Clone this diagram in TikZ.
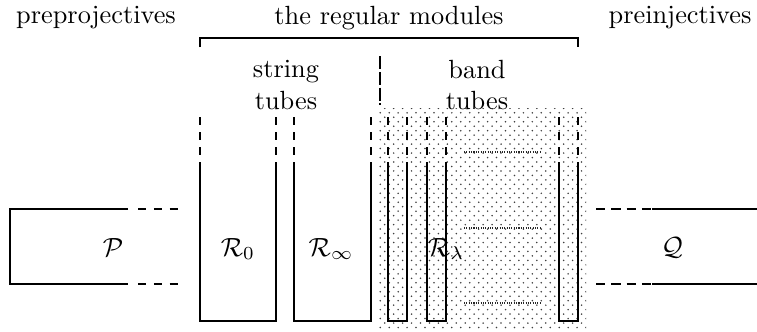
\documentclass[tikz,border=0pt]{standalone}
\usetikzlibrary{patterns}
\pgfdeclarepatternformonly{banddots}{\pgfpoint{-1pt}{-1pt}}{\pgfpoint{2.7pt}{2.7pt}}{\pgfpoint{3.4pt}{3.4pt}}{%
  \pgfpathcircle{\pgfpoint{0pt}{0pt}}{.33pt}%
  \pgfpathcircle{\pgfpoint{1.7pt}{1.7pt}}{.33pt}%
  \pgfusepath{fill}}
\begin{document}
\begin{tikzpicture}[x=0.38pt,y=-0.38pt,
  edge/.style={line width=0.5pt},
  tubedash/.style={line width=0.5pt,dash pattern=on 3pt off 2.7pt},
  lbl/.style={inner sep=0pt,align=center},
  gapdots/.style={line width=0.4pt,black!85,dash pattern=on 0.4pt off 0.5pt}]
\useasboundingbox (0,0) rectangle (757,332);
% shaded band region
\fill[pattern=banddots,pattern color=black!75] (379,108) rectangle (586,330);
% top labels
\node[lbl] (pre) at (96,18) {preprojectives};
\node[lbl] (reg) at (389,18) {the regular modules};
\node[lbl] (inj) at (680,18) {preinjectives};
% bracket
\coordinate (bl) at (200,47);
\coordinate (br) at (578,47);
\draw[edge] (bl) -- (200,38) -- (578,38) -- (br);
% divider
\coordinate (dt) at (380,56);
\coordinate (db) at (380,105);
\draw[line width=0.5pt,dash pattern=on 5pt off 1pt] (dt) -- (db);
\node[lbl] (str) at (286,85) {string\\tubes};
\node[lbl] (band) at (477,85) {band\\tubes};
% preprojective component
\draw[edge] (128,209) -- (10,209) -- (10,284) -- (128,284);
\draw[edge,dash pattern=on 3.2pt off 2.8pt] (138,209) -- (178,209);
\draw[edge,dash pattern=on 3.2pt off 2.8pt] (138,284) -- (178,284);
\node[lbl] (P) at (113,248) {$\mathcal{P}$};
% preinjective component
\draw[edge,dash pattern=on 3.6pt off 2.2pt] (596,209) -- (652,209);
\draw[edge,dash pattern=on 3.6pt off 2.2pt] (596,284) -- (652,284);
\draw[edge] (652,209) -- (757,209);
\draw[edge] (652,284) -- (757,284);
\node[lbl] (Q) at (672,248) {$\mathcal{Q}$};
% tubes
\foreach \l/\r in {200/276,294/371,388/407,427/446,559/578}{
  \draw[tubedash] (\l,117) -- (\l,162);
  \draw[tubedash] (\r,117) -- (\r,162);
  \draw[edge] (\l,162) -- (\l,321) -- (\r,321) -- (\r,162);
}
\node[lbl] (R0) at (238,249) {$\mathcal{R}_0$};
\node[lbl] (Rinf) at (331,249) {$\mathcal{R}_\infty$};
\node[lbl] (Rl) at (446,249) {$\mathcal{R}_\lambda$};
% dotted gaps between band tubes
\foreach \y in {152,228,303}{
  \draw[gapdots] (464,\y) -- (541,\y);
}
\end{tikzpicture}
\end{document}
